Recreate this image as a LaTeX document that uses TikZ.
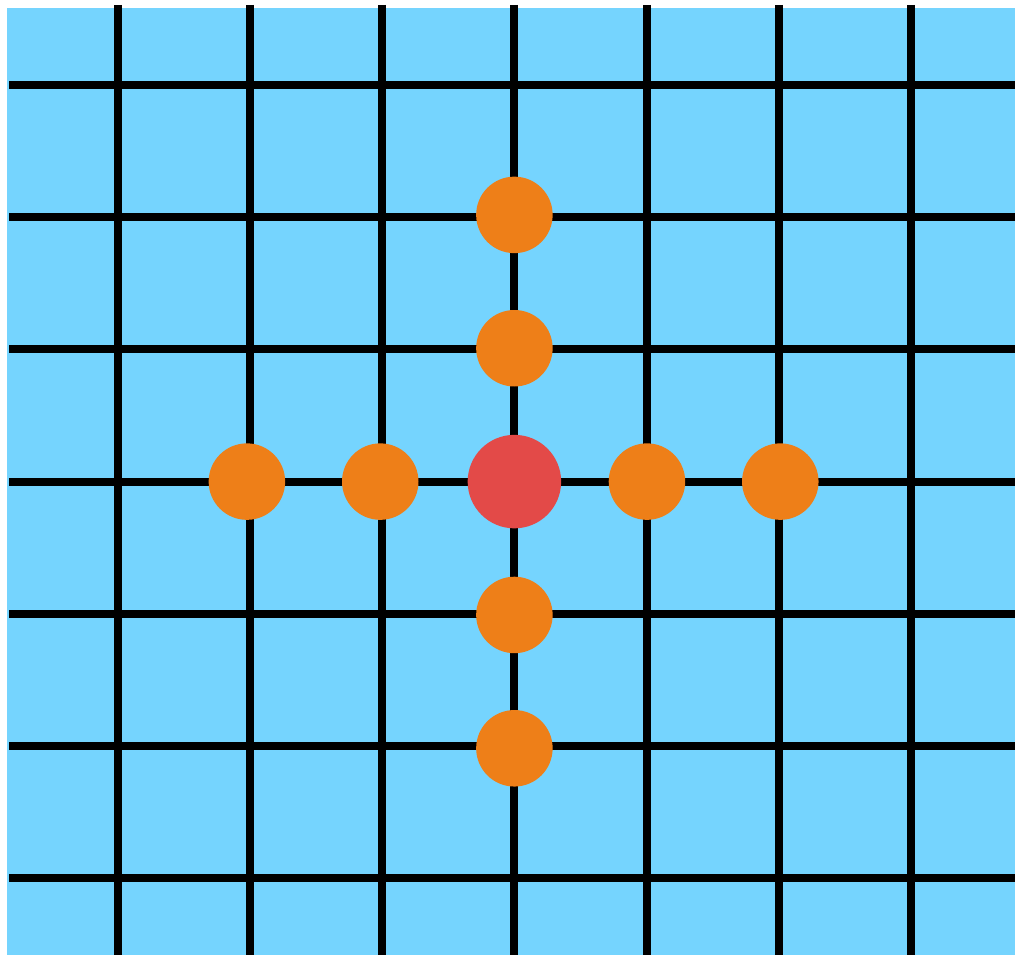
\documentclass[tikz,border=0pt]{standalone}
\definecolor{skyblue}{HTML}{75D4FE}
\definecolor{dotorange}{HTML}{EE7F18}
\definecolor{dotred}{HTML}{E34A48}
\begin{document}
\begin{tikzpicture}[x=1pt,y=-1pt,
  gridline/.style={line width=8pt,black},
  odot/.style={circle,fill=dotorange,minimum size=76.5pt,inner sep=0pt},
  rdot/.style={circle,fill=dotred,minimum size=93.5pt,inner sep=0pt}]
\useasboundingbox[fill=white] (0,0) rectangle (1015,955);
\fill[skyblue] (7,8) rectangle (1015,955);
\foreach \i in {-3,...,3}{
  \draw[gridline] ({514.4+132.17*\i},5) -- ({514.4+132.17*\i},955);
  \draw[gridline] (9,{481.6+132.17*\i}) -- (1015,{481.6+132.17*\i});
}
\def\cs{133.35}
\node[rdot] (c) at (514.4,481.6) {};
\node[odot] (u2) at (514.4,{481.6-2*\cs}) {};
\node[odot] (u1) at (514.4,{481.6-\cs}) {};
\node[odot] (d1) at (514.4,{481.6+\cs}) {};
\node[odot] (d2) at (514.4,{481.6+2*\cs}) {};
\node[odot] (l2) at ({513.6-2*\cs},481.6) {};
\node[odot] (l1) at ({513.6-\cs},481.6) {};
\node[odot] (r1) at ({513.6+\cs},481.6) {};
\node[odot] (r2) at ({513.6+2*\cs},481.6) {};
\end{tikzpicture}
\end{document}
